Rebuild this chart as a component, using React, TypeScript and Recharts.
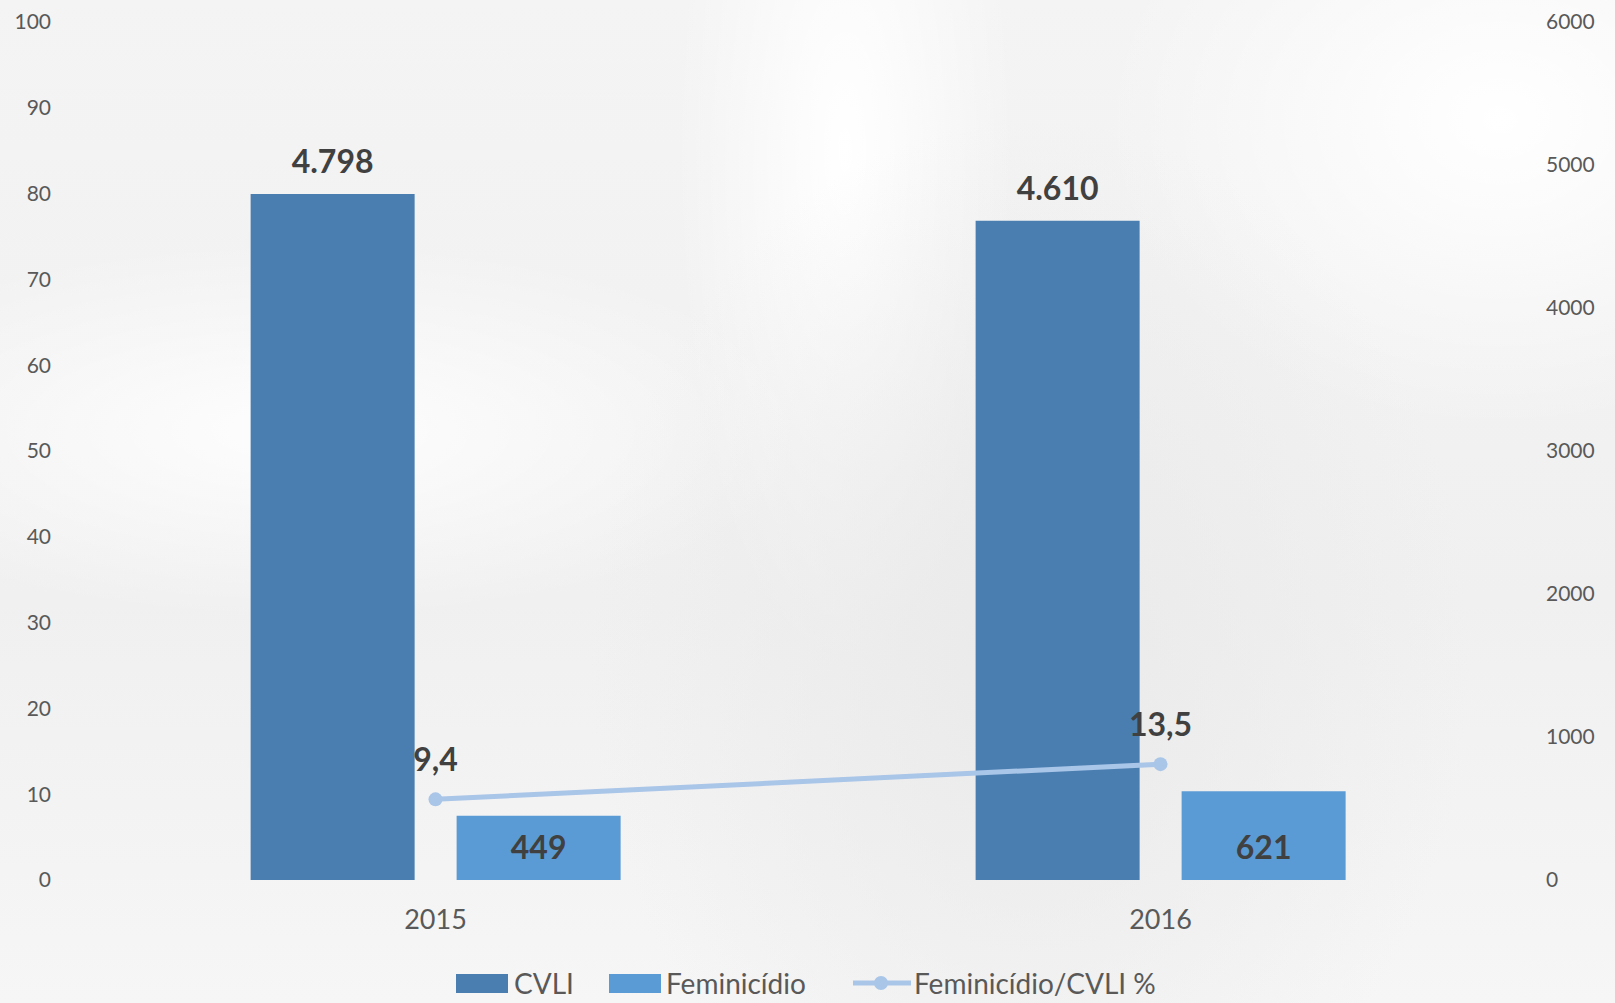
import { ComposedChart, Bar, Line, XAxis, YAxis, LabelList } from 'recharts';

const categories = ['2015', '2016'];
const cvli = [4798, 4610];
const feminicidio = [449, 621];
const ratio = [9.4, 13.5];
const leftTicks = [0, 10, 20, 30, 40, 50, 60, 70, 80, 90, 100];
const rightTicks = [0, 1000, 2000, 3000, 4000, 5000, 6000];

const data = categories.map((year, i) => ({
  year,
  cvli: cvli[i],
  feminicidio: feminicidio[i],
  ratio: ratio[i],
}));

const FONT = 'Lato, "Open Sans", sans-serif';
const DARK = '#404040';
const TICK = '#595959';
const C_CVLI = '#4A7EB0';
const C_FEM = '#5B9BD5';
const C_LINE = '#A9C5E8';

// 4798 -> "4.798"
const thousands = (v: number) => String(v).replace(/\B(?=(\d{3})+(?!\d))/g, '.');
const decimal = (v: number) => v.toFixed(1).replace('.', ',');

const TopLabel = (props: any) => {
  const { x, y, width, value } = props;
  return (
    <text x={x + width / 2} y={y - 21} textAnchor="middle" fontSize={32} fontWeight={700} fill={DARK} fontFamily={FONT}>
      {thousands(value)}
    </text>
  );
};

const BaseLabel = (props: any) => {
  const { x, y, width, height, value } = props;
  return (
    <text x={x + width / 2} y={y + height - 21} textAnchor="middle" fontSize={32} fontWeight={700} fill={DARK} fontFamily={FONT}>
      {thousands(value)}
    </text>
  );
};

const PointLabel = (props: any) => {
  const { x, y, value } = props;
  return (
    <text x={x} y={y - 28} textAnchor="middle" fontSize={32} fontWeight={700} fill={DARK} fontFamily={FONT}>
      {decimal(value)}
    </text>
  );
};

const legendText: React.CSSProperties = {
  position: 'absolute',
  top: 0,
  fontSize: 28,
  lineHeight: '38px',
  color: TICK,
  fontFamily: FONT,
  whiteSpace: 'nowrap',
};

export default function App() {
  return (
    <div
      style={{
        position: 'absolute',
        left: 0,
        top: 0,
        width: 1615,
        height: 1003,
        overflow: 'hidden',
        background:
          'radial-gradient(ellipse 440px 540px at 1030px 660px, #eaeaea 0%, rgba(234,234,234,0) 100%),' +
          'radial-gradient(ellipse 520px 190px at 300px 430px, rgba(255,255,255,0.9) 0%, rgba(255,255,255,0) 100%),' +
          'radial-gradient(ellipse 400px 310px at 1500px 120px, #ffffff 0%, rgba(255,255,255,0) 100%),' +
          'radial-gradient(ellipse 170px 520px at 845px 150px, #ffffff 0%, rgba(255,255,255,0) 100%),' +
          'linear-gradient(180deg, #f4f4f4 0%, #f0f0f0 60%, #f6f6f6 100%)',
      }}
    >
      <ComposedChart
        width={1615}
        height={1003}
        data={data}
        margin={{ top: 22, right: 0, left: 0, bottom: 63 }}
        barCategoryGap="24.5%"
        barGap={42}
      >
        <XAxis
          xAxisId="frame"
          type="number"
          domain={[0, 2]}
          ticks={[0, 1, 2]}
          tick={false}
          height={0}
          axisLine={{ stroke: '#d9d9d9', strokeWidth: 2 }}
          tickLine={{ stroke: '#d9d9d9', strokeWidth: 2 }}
          tickSize={10}
        />
        <XAxis
          xAxisId="cat"
          dataKey="year"
          height={60}
          axisLine={false}
          tickLine={false}
          tickSize={0}
          tickMargin={30}
          tick={{ fontSize: 27, fill: TICK, fontFamily: FONT }}
        />
        <YAxis
          yAxisId="left"
          orientation="left"
          width={73}
          domain={[0, 100]}
          ticks={leftTicks}
          axisLine={false}
          tickLine={false}
          tickMargin={16}
          tick={{ fontSize: 21, fill: TICK, fontFamily: FONT }}
        />
        <YAxis
          yAxisId="right"
          orientation="right"
          width={92}
          domain={[0, 6000]}
          ticks={rightTicks}
          axisLine={false}
          tickLine={false}
          tickMargin={17}
          tick={{ fontSize: 21, fill: TICK, fontFamily: FONT }}
        />
        <Bar xAxisId="cat" yAxisId="right" dataKey="cvli" fill={C_CVLI} isAnimationActive={false}>
          <LabelList dataKey="cvli" content={TopLabel} />
        </Bar>
        <Bar xAxisId="cat" yAxisId="right" dataKey="feminicidio" fill={C_FEM} isAnimationActive={false}>
          <LabelList dataKey="feminicidio" content={BaseLabel} />
        </Bar>
        <Line
          xAxisId="cat"
          yAxisId="left"
          dataKey="ratio"
          stroke={C_LINE}
          strokeWidth={5}
          dot={{ r: 7, fill: C_LINE, stroke: C_LINE, strokeWidth: 0 }}
          isAnimationActive={false}
        >
          <LabelList dataKey="ratio" content={PointLabel} />
        </Line>
      </ComposedChart>
      <div style={{ position: 'absolute', top: 964, left: 0, width: 1615, height: 38 }}>
        <span style={{ position: 'absolute', left: 456, top: 10, width: 52, height: 19, background: C_CVLI }} />
        <span style={{ ...legendText, left: 514 }}>CVLI</span>
        <span style={{ position: 'absolute', left: 609, top: 10, width: 52, height: 19, background: C_FEM }} />
        <span style={{ ...legendText, left: 666 }}>Feminicídio</span>
        <svg width={58} height={20} style={{ position: 'absolute', left: 853, top: 9 }}>
          <line x1={0} y1={10} x2={58} y2={10} stroke={C_LINE} strokeWidth={5} />
          <circle cx={28} cy={10} r={7} fill={C_LINE} />
        </svg>
        <span style={{ ...legendText, left: 914 }}>Feminicídio/CVLI %</span>
      </div>
    </div>
  );
}
